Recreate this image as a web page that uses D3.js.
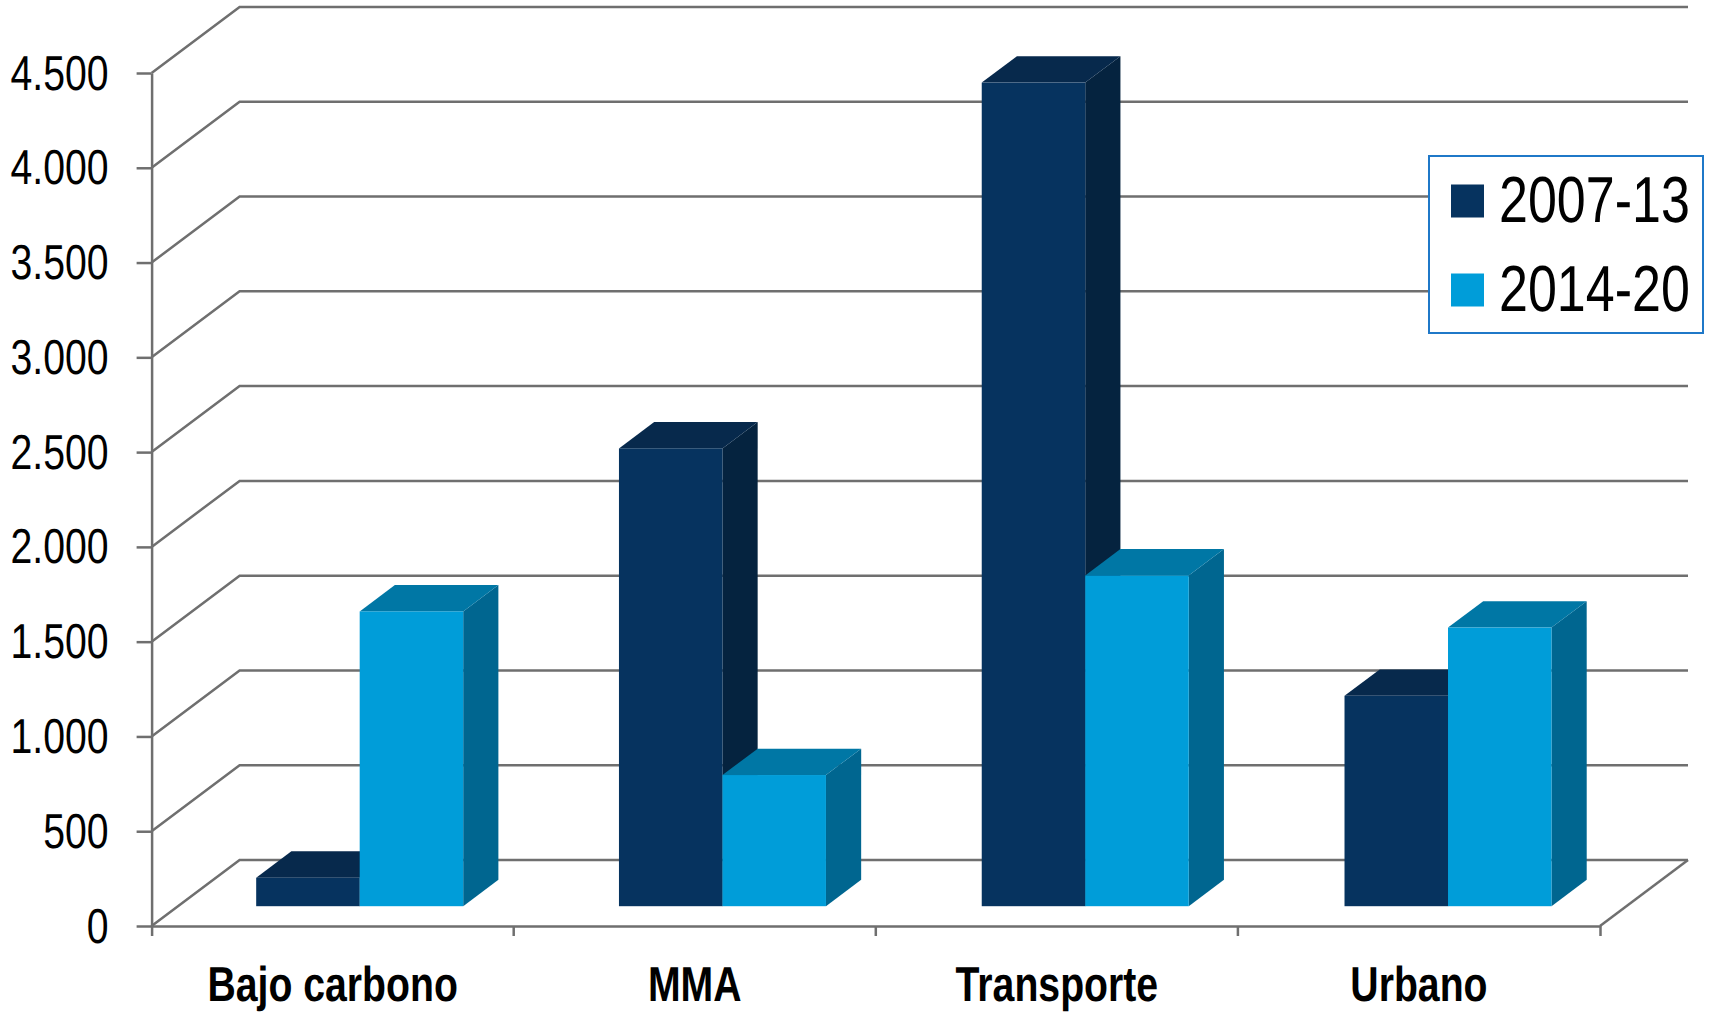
<!DOCTYPE html>
<html>
<head>
<meta charset="utf-8">
<script src="https://cdn.jsdelivr.net/npm/d3@7"></script>
<style>
  html, body { margin: 0; padding: 0; background: #fff; }
  svg { display: block; }
  text { font-family: "Liberation Sans", Arial, sans-serif; fill: #000; text-rendering: geometricPrecision; }
</style>
</head>
<body>
<svg id="chart"></svg>
<script>
const categories = ["Bajo carbono", "MMA", "Transporte", "Urbano"];
const seriesNames = ["2007-13", "2014-20"];
const values2007 = [150, 2415, 4345, 1110];
const values2014 = [1555, 692, 1745, 1470];
const yTicks = [0, 500, 1000, 1500, 2000, 2500, 3000, 3500, 4000, 4500];

const frontColors = ["#06335f", "#009dd9"];
const topColors = ["#07294c", "#0077a5"];
const sideColors = ["#05233f", "#006690"];

const width = 1710, height = 1017;
const gridColor = "#6f6f6f";
const squeeze = 0.8; // the text in the picture is stretched tall, so narrow it

const svg = d3.select("#chart").attr("width", width).attr("height", height);

// front plane of the 3d box
const x = d3.scaleBand().domain(categories).range([151.6, 1600]);
const y = d3.scaleLinear().domain([0, 4500]).range([926, 73]);
const depth = {dx: 88, dy: -66};

// the bars step a touch wider than the axis ticks in the picture
const xBars = d3.scaleBand().domain(categories).range([151.9, 1603]);
const series = d3.scaleBand().domain(seriesNames)
    .range([0, 207]);

// gridlines: along the side wall and then along the back wall
const gridPath = d => {
  const p = d3.path();
  p.moveTo(x.range()[0], y(d));
  p.lineTo(x.range()[0] + depth.dx, y(d) + depth.dy);
  p.lineTo(x.range()[1] + depth.dx, y(d) + depth.dy);
  return p.toString();
};

svg.append("g").selectAll("path")
    .data(yTicks)
    .join("path")
    .attr("d", gridPath)
    .attr("fill", "none")
    .attr("stroke", gridColor)
    .attr("stroke-width", 2.5);

// floor, right edge
svg.append("line")
    .attr("x1", x.range()[1]).attr("y1", y(0))
    .attr("x2", x.range()[1] + depth.dx).attr("y2", y(0) + depth.dy)
    .attr("stroke", gridColor)
    .attr("stroke-width", 2.5);

// axes
const numFormat = d3.formatLocale({decimal: ",", thousands: ".", grouping: [3], currency: ["", ""]}).format(",");

const yAxisG = svg.append("g")
    .attr("transform", `translate(${x.range()[0]},0)`)
    .call(d3.axisLeft(y).tickValues(yTicks).tickFormat(numFormat).tickSize(15).tickSizeOuter(0));

yAxisG.selectAll("text")
    .attr("font-size", 49)
    .attr("dy", null)
    .attr("x", null)
    .attr("text-anchor", "end")
    .attr("transform", d => `translate(-43,${16}) scale(${squeeze},1)`);

const xAxisG = svg.append("g")
    .attr("transform", `translate(0,${y(0)})`)
    .call(d3.axisBottom(x).tickSize(0).tickSizeOuter(10));

xAxisG.selectAll(".tick text")
    .attr("font-size", 49)
    .attr("font-weight", "bold")
    .attr("y", null)
    .attr("dy", null)
    .attr("text-anchor", "middle")
    .attr("transform", `translate(0,75) scale(${squeeze},1)`);

// category tick marks at the band edges
xAxisG.selectAll(".edge")
    .data(categories.slice(1))
    .join("line")
    .attr("class", "edge")
    .attr("x1", d => x(d)).attr("x2", d => x(d))
    .attr("y1", 0).attr("y2", 10);

svg.selectAll(".domain, .tick line, .edge")
    .attr("stroke", gridColor)
    .attr("stroke-width", 2.5);

// bars sit in the middle of the depth: 30% gap, 40% bar, 30% gap
const barGap = 0.3, barDepth = 0.4;
const baseX = barGap * depth.dx, baseY = barGap * depth.dy;
const faceX = barDepth * depth.dx, faceY = barDepth * depth.dy;

const bars = [];
categories.forEach((c, i) => {
  bars.push({category: c, s: 0, value: values2007[i]});
  bars.push({category: c, s: 1, value: values2014[i]});
});

const barG = svg.append("g").selectAll("g")
    .data(bars)
    .join("g")
    .attr("transform", d => {
      const left = xBars(d.category) + (xBars.bandwidth() - series.range()[1]) / 2 + series(seriesNames[d.s]) + baseX;
      return `translate(${left},${baseY})`;
    });

const barW = series.bandwidth();
const barTop = d => y(d.value);

barG.append("path")
    .attr("d", d => `M${barW},${barTop(d)}l${faceX},${faceY}V${y(0) + faceY}L${barW},${y(0)}Z`)
    .attr("fill", d => sideColors[d.s]);

barG.append("path")
    .attr("d", d => `M0,${barTop(d)}l${faceX},${faceY}h${barW}L${barW},${barTop(d)}Z`)
    .attr("fill", d => topColors[d.s]);

barG.append("rect")
    .attr("x", 0)
    .attr("width", barW)
    .attr("y", barTop)
    .attr("height", d => y(0) - barTop(d))
    .attr("fill", d => frontColors[d.s]);

// legend
const legend = svg.append("g").attr("transform", "translate(1429,156)");

legend.append("rect")
    .attr("width", 274)
    .attr("height", 177)
    .attr("fill", "#fff")
    .attr("stroke", "#1f78c8")
    .attr("stroke-width", 2);

const legendRow = d3.scalePoint().domain(seriesNames).range([45, 134]);

const legendItem = legend.selectAll(".item")
    .data(seriesNames)
    .join("g")
    .attr("class", "item")
    .attr("transform", d => `translate(0,${legendRow(d)})`);

legendItem.append("rect")
    .attr("x", 22)
    .attr("y", -16.5)
    .attr("width", 33)
    .attr("height", 33)
    .attr("fill", (d, i) => frontColors[i]);

legendItem.append("text")
    .attr("transform", `translate(70,21) scale(${squeeze},1)`)
    .attr("font-size", 65)
    .text(d => d);
</script>
</body>
</html>
